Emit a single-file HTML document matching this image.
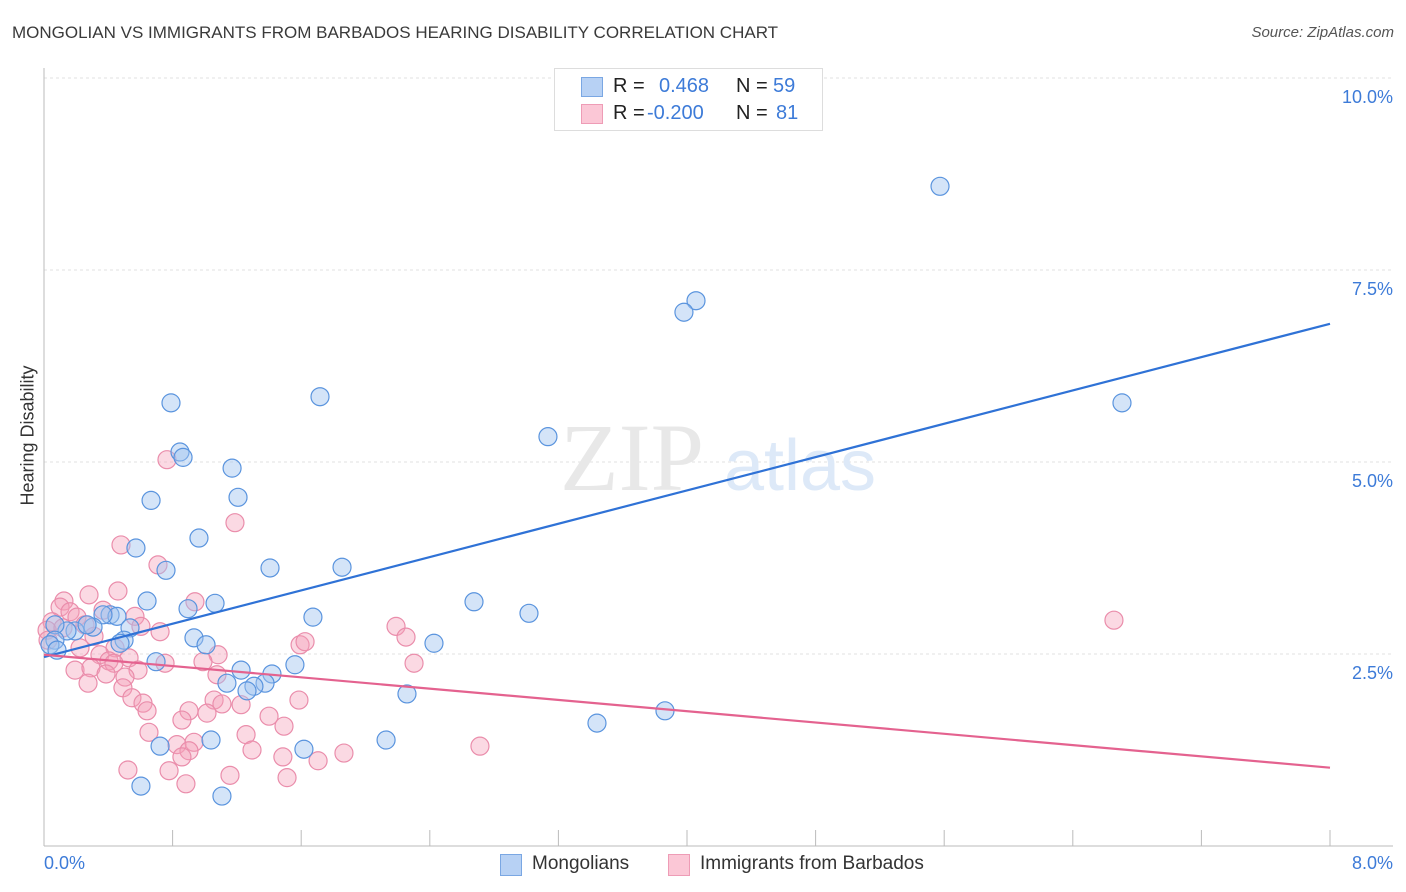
<!DOCTYPE html>
<html><head><meta charset="utf-8">
<style>
body{margin:0;background:#fff;font-family:"Liberation Sans",sans-serif;}
#wrap{position:relative;width:1406px;height:892px;overflow:hidden;}
.t{position:absolute;white-space:nowrap;}
</style></head>
<body>
<div id="wrap">
<div class="t" style="left:12px;top:23px;font-size:17px;color:#3a3a3a;">MONGOLIAN VS IMMIGRANTS FROM BARBADOS HEARING DISABILITY CORRELATION CHART</div>
<div class="t" style="right:12px;top:24px;font-size:15px;color:#555;font-style:italic;">Source: ZipAtlas.com</div>
<svg id="svg" width="1406" height="892" style="position:absolute;left:0;top:0"></svg>
</div>
<script>
const blueX=[5.574,4.056,3.981,6.706,1.717,0.790,3.135,0.846,0.865,1.170,0.666,1.207,0.964,0.572,0.759,1.406,1.854,0.641,0.896,1.064,2.675,3.017,1.673,0.411,0.454,0.367,0.535,0.305,0.193,0.143,0.268,0.068,0.933,0.498,1.008,2.426,0.068,0.037,0.081,0.473,0.697,1.561,1.226,1.418,1.138,1.375,1.306,1.263,2.258,3.863,3.440,2.128,1.039,0.722,1.617,0.603,1.107];
const blueY=[8.59,7.10,6.95,5.77,5.85,5.77,5.33,5.13,5.06,4.92,4.50,4.54,4.01,3.88,3.59,3.62,3.63,3.19,3.09,3.16,3.18,3.03,2.98,3.01,2.99,3.01,2.84,2.85,2.80,2.80,2.88,2.88,2.71,2.68,2.62,2.64,2.68,2.62,2.55,2.64,2.40,2.36,2.29,2.24,2.12,2.12,2.08,2.02,1.98,1.76,1.60,1.38,1.38,1.30,1.26,0.78,0.65];
const pinkX=[0.765,1.188,0.479,0.709,0.460,0.280,0.124,0.939,0.100,0.162,0.367,0.566,0.205,2.190,6.656,0.050,0.019,0.118,0.255,0.603,0.722,2.252,1.593,1.624,0.311,0.025,0.224,0.442,0.348,1.083,0.529,0.404,0.435,0.753,0.989,2.302,0.193,0.292,0.585,0.386,1.076,0.504,0.274,0.491,1.586,0.547,1.058,0.616,1.107,1.226,0.902,1.014,0.641,1.400,0.858,1.493,1.257,0.653,0.933,0.827,2.712,1.294,0.902,1.866,1.486,0.858,1.705,0.522,0.778,1.157,1.512,0.883];
const pinkY=[5.03,4.21,3.92,3.66,3.32,3.27,3.19,3.18,3.11,3.05,3.07,2.99,2.98,2.86,2.94,2.92,2.81,2.84,2.88,2.86,2.79,2.72,2.62,2.66,2.73,2.68,2.58,2.58,2.49,2.49,2.45,2.41,2.38,2.38,2.40,2.38,2.29,2.32,2.29,2.24,2.23,2.20,2.12,2.06,1.90,1.93,1.90,1.86,1.85,1.84,1.76,1.73,1.76,1.69,1.64,1.56,1.45,1.48,1.35,1.32,1.30,1.25,1.24,1.21,1.16,1.16,1.11,0.99,0.98,0.92,0.89,0.81];
const blueTrend=[2.46,6.80];
const pinkTrend=[2.49,1.02];
const yTicks=[2.5,5,7.5,10];
const yTickLabels=["2.5%","5.0%","7.5%","10.0%"];

const X=v=>44+v/8*1286, Y=v=>846-v/10*768;
const svg=document.getElementById('svg');
const NS='http://www.w3.org/2000/svg';
function mk(tag,attrs){const e=document.createElementNS(NS,tag);for(const k in attrs)e.setAttribute(k,attrs[k]);svg.appendChild(e);return e;}

yTicks.forEach((t,i)=>{
  const g=mk('line',{x1:44,x2:1393,y1:Y(t),y2:Y(t),stroke:'#e2e2e2','stroke-dasharray':'3,3'});
  
  
  const tx=mk('text',{x:1393,y:Y(t)+25,'text-anchor':'end','font-size':18,fill:'#3d7bd8','font-family':'Liberation Sans'});
  tx.textContent=yTickLabels[i];
  
  
});
const ax=mk('line',{x1:44,x2:44,y1:68,y2:846,stroke:'#bbb'});


const bx=mk('line',{x1:44,x2:1393,y1:846,y2:846,stroke:'#bbb'});


for(let i=0;i<=10;i++){
  const tk=mk('line',{x1:X(i*0.8),x2:X(i*0.8),y1:830,y2:846,stroke:'#bbb'});
  
  
}
const wm1=mk('text',{x:632,y:490,'text-anchor':'middle','font-size':96,fill:'#e8e8e8','font-family':'Liberation Serif'});
wm1.textContent='ZIP';


const wm2=mk('text',{x:800,y:490,'text-anchor':'middle','font-size':72,fill:'#dde9f8','font-family':'Liberation Sans'});
wm2.textContent='atlas';



pinkX.forEach((v,i)=>{
  const c=mk('circle',{cx:X(v),cy:Y(pinkY[i]),r:9,fill:'rgba(244,160,186,0.4)',stroke:'#ea8dab','stroke-width':1.2});
  
  
});
blueX.forEach((v,i)=>{
  const c=mk('circle',{cx:X(v),cy:Y(blueY[i]),r:9,fill:'rgba(160,196,240,0.45)',stroke:'#5a94de','stroke-width':1.2});
  
  
});
const bl=mk('line',{x1:X(0),y1:Y(blueTrend[0]),x2:X(8),y2:Y(blueTrend[1]),stroke:'#2f72d6','stroke-width':2.2});


const pl=mk('line',{x1:X(0),y1:Y(pinkTrend[0]),x2:X(8),y2:Y(pinkTrend[1]),stroke:'#e4628f','stroke-width':2.2});


</script>
<div class="t" style="left:-22px;top:445px;font-size:18px;color:#333;transform:rotate(-90deg);transform-origin:center;width:100px;text-align:center;">Hearing Disability</div>
<div class="t" style="left:44px;top:853px;font-size:18px;color:#3d7bd8;">0.0%</div>
<div class="t" style="right:13px;top:853px;font-size:18px;color:#3d7bd8;">8.0%</div>
<div style="position:absolute;left:554px;top:68px;width:267px;height:61px;border:1px solid #ddd;background:#fff;font-size:20px;">
  <div style="position:absolute;left:26px;top:8px;width:20px;height:18px;background:#b7d1f4;border:1px solid #7aa7e3;"></div>
  <div class="t" style="left:58px;top:6px;color:#222;">R = </div>
  <div class="t" style="left:104px;top:6px;color:#3d7bd8;">0.468</div>
  <div class="t" style="left:181px;top:6px;color:#222;">N = </div>
  <div class="t" style="left:218px;top:6px;color:#3d7bd8;">59</div>
  <div style="position:absolute;left:26px;top:35px;width:20px;height:18px;background:#fbc7d6;border:1px solid #ee9cb6;"></div>
  <div class="t" style="left:58px;top:33px;color:#222;">R = </div>
  <div class="t" style="left:92px;top:33px;color:#3d7bd8;">-0.200</div>
  <div class="t" style="left:181px;top:33px;color:#222;">N = </div>
  <div class="t" style="left:221px;top:33px;color:#3d7bd8;">81</div>
</div>
<div style="position:absolute;left:500px;top:853px;">
  <div style="position:absolute;left:0;top:1px;width:20px;height:20px;background:#b7d1f4;border:1px solid #7aa7e3;"></div>
  <div class="t" style="left:32px;top:0;font-size:19px;color:#333;">Mongolians</div>
</div>
<div style="position:absolute;left:668px;top:853px;">
  <div style="position:absolute;left:0;top:1px;width:20px;height:20px;background:#fbc7d6;border:1px solid #ee9cb6;"></div>
  <div class="t" style="left:32px;top:0;font-size:19px;color:#333;">Immigrants from Barbados</div>
</div>
</body></html>
